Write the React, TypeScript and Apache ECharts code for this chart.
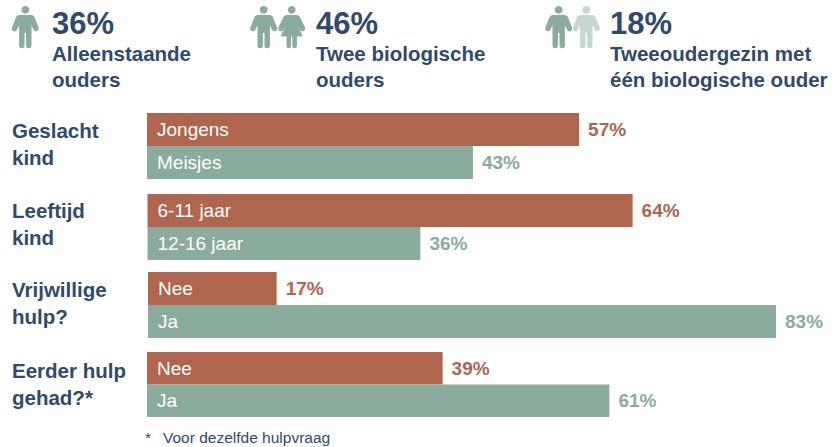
import React, { useEffect, useRef } from "react";
import * as echarts from "echarts";

const rust = "#B0654E";
const green = "#8BAB9C";
const lightGreen = "#C5D8CF";
const navy = "#2F4A6D";
const FONT = '"Liberation Sans", Arial, sans-serif';

const groupLabels = ["Geslacht\nkind", "Leeftijd\nkind", "Vrijwillige\nhulp?", "Eerder hulp\ngehad?*"];
const categories1 = ["Jongens", "Meisjes"];
const categories2 = ["6-11 jaar", "12-16 jaar"];
const categories3 = ["Nee", "Ja"];
const categories4 = ["Nee", "Ja"];
const values1 = [57, 43];
const values2 = [64, 36];
const values3 = [17, 83];
const values4 = [39, 61];
const allCategories = [categories1, categories2, categories3, categories4];
const allValues = [values1, values2, values3, values4];

const headerValues = ["36%", "46%", "18%"];
const headerLabels = ["Alleenstaande\nouders", "Twee biologische\nouders", "Tweeoudergezin met\n\u00e9\u00e9n biologische ouder"];
const footnoteMark = "*";
const footnote = "Voor dezelfde hulpvraag";

const malePath =
  "M0 -9.1a3.9 3.9 0 1 0 0.01 0Z" +
  "M-6 0L6 0Q8 0 9 1.8L13.4 12.6Q14 15 12 16Q10 16.8 8.8 15.4L6.2 10.5L6.2 31Q6 33.3 3.6 33.3Q1 33.3 0.8 31L0.8 18L-0.8 18L-0.8 31Q-1 33.3 -3.6 33.3Q-6 33.3 -6.2 31L-6.2 10.5L-8.8 15.4Q-10 16.8 -12 16Q-14 15 -13.4 12.6L-9 1.8Q-8 0 -6 0Z";
const femalePath =
  "M0 -9.1a3.9 3.9 0 1 0 0.01 0Z" +
  "M-5 0L5 0Q7 0 8 1.8L13.4 12.6Q14 15 12 16Q10 16.8 8.8 15.4L6.2 10.5L11 21.6L5.2 21.6L5.2 31Q5 33.3 3 33.3Q0.8 33.3 0.6 31L0.6 21.6L-0.6 21.6L-0.6 31Q-0.8 33.3 -3 33.3Q-5 33.3 -5.2 31L-5.2 21.6L-11 21.6L-6.2 10.5L-8.8 15.4Q-10 16.8 -12 16Q-14 15 -13.4 12.6L-8 1.8Q-7 0 -5 0Z";

echarts.graphic.registerShape("iconMale", echarts.graphic.extendPath(malePath as any, {}) as any);
echarts.graphic.registerShape("iconFemale", echarts.graphic.extendPath(femalePath as any, {}) as any);

const gridTops = [113, 194, 272, 352];
const gridHeights = [66, 66, 66, 65];
const gridLefts = [147, 147.5, 148, 147];
const gridWidths = [682.2, 682.2, 681, 682.2];
const labelTops = [117, 197, 276, 357];

export default function App() {
  const ref = useRef<HTMLDivElement>(null);
  useEffect(() => {
    const chart = echarts.init(ref.current!, null, { renderer: "svg" });
    const textStyle = (extra: any) => ({ fontFamily: FONT, fill: navy, ...extra });
    const icon = (type: string, x: number, fill: string) => ({ type, x, y: 15, style: { fill }, silent: true });
    const headerX = [52, 316, 610];
    chart.setOption({
      animation: false,
      backgroundColor: "#fff",
      grid: gridTops.map((top, i) => ({ left: gridLefts[i], top, width: gridWidths[i], height: gridHeights[i] })),
      xAxis: allValues.map((_, i) => ({
        type: "value", gridIndex: i, min: 0, max: 90, show: false,
      })),
      yAxis: allCategories.map((cats, i) => ({
        type: "category", gridIndex: i, data: cats, inverse: true, z: 10,
        axisLine: { show: false }, axisTick: { show: false }, splitLine: { show: false },
        axisLabel: { inside: true, margin: 10, color: "#fff", fontFamily: FONT, fontSize: 19, align: "left", padding: [0, 0, 2, 0] },
      })),
      series: allValues.map((vals, i) => ({
        type: "bar", xAxisIndex: i, yAxisIndex: i, barWidth: "100%", silent: true,
        data: vals.map((v, j) => ({
          value: v,
          itemStyle: { color: j === 0 ? rust : green },
          label: { color: j === 0 ? rust : green },
        })),
        label: {
          show: true, position: "right", distance: 9, formatter: "{c}%",
          fontFamily: FONT, fontSize: 19, fontWeight: "bold", padding: [0, 0, 2, 0],
        },
      })),
      graphic: [
        icon("iconMale", 25.3, green),
        icon("iconMale", 263.7, green),
        icon("iconFemale", 291.7, green),
        icon("iconMale", 558.7, green),
        icon("iconMale", 586.3, lightGreen),
        ...headerValues.map((t, i) => ({
          type: "text", x: headerX[i], y: 6,
          style: textStyle({ text: t, fontSize: 31, fontWeight: "bold", lineHeight: 34 }),
        })),
        ...headerLabels.map((t, i) => ({
          type: "text", x: headerX[i], y: 40,
          style: textStyle({ text: t, fontSize: 20.5, fontWeight: "bold", lineHeight: 26 }),
        })),
        ...groupLabels.map((t, i) => ({
          type: "text", x: 12, y: labelTops[i],
          style: textStyle({ text: t, fontSize: 20.5, fontWeight: "bold", lineHeight: 27 }),
        })),
        { type: "text", x: 145, y: 429, style: textStyle({ text: footnoteMark, fontSize: 15.5 }) },
        { type: "text", x: 163, y: 429, style: textStyle({ text: footnote, fontSize: 15.5 }) },
      ],
    });
    return () => chart.dispose();
  }, []);
  return <div ref={ref} style={{ position: "fixed", left: 0, top: 0, width: 840, height: 447 }} />;
}
